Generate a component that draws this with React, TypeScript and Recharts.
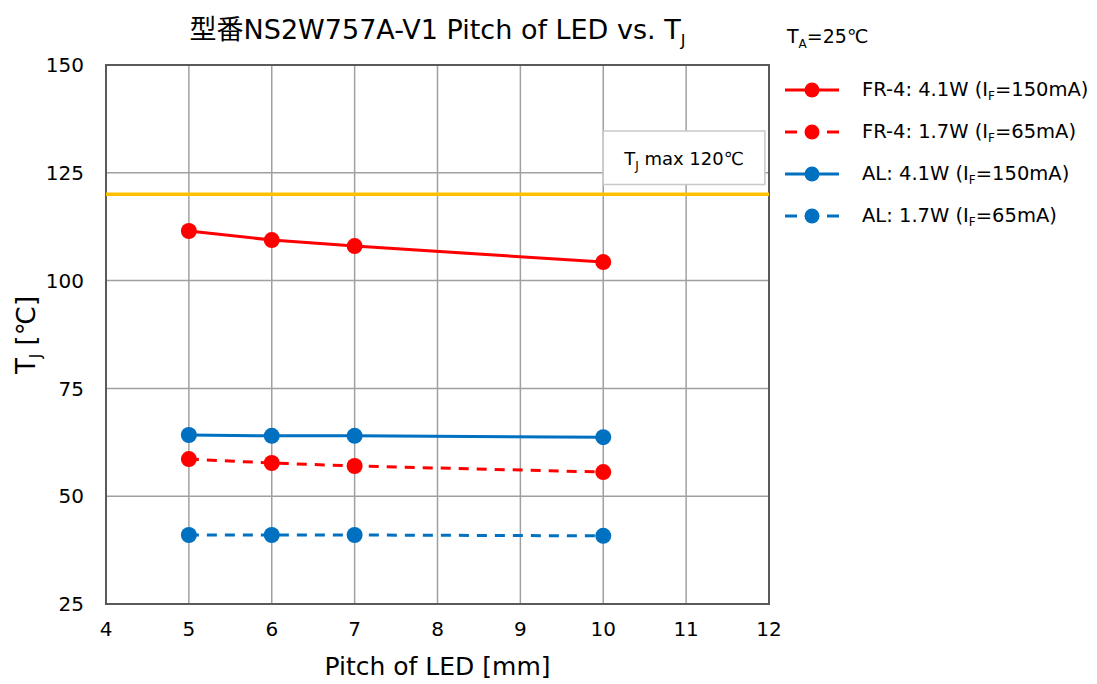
import React from "react";
import {
  LineChart,
  Line,
  XAxis,
  YAxis,
  CartesianGrid,
  ReferenceLine,
  ReferenceArea,
} from "recharts";

// pitch of LED [mm]
const pitches = [5, 6, 7, 10];
// junction temperature [°C]
const fr4High = [111.5, 109.4, 108.0, 104.3];
const fr4Low = [58.6, 57.7, 57.0, 55.6];
const alHigh = [64.2, 64.0, 64.0, 63.7];
const alLow = [41.0, 41.0, 41.0, 40.8];

const xTicks = [4, 5, 6, 7, 8, 9, 10, 11, 12];
const yTicks = [25, 50, 75, 100, 125, 150];
const tjMax = 120;

const RED = "#ff0000";
const BLUE = "#0070c0";
const FONT = "'DejaVu Sans', 'Noto Sans CJK JP', sans-serif";

const series = [
  { key: "fr4High", name: "FR-4: 4.1W (", cur: "=150mA)", color: RED, dashed: false },
  { key: "fr4Low", name: "FR-4: 1.7W (", cur: "=65mA)", color: RED, dashed: true },
  { key: "alHigh", name: "AL: 4.1W (", cur: "=150mA)", color: BLUE, dashed: false },
  { key: "alLow", name: "AL: 1.7W (", cur: "=65mA)", color: BLUE, dashed: true },
];

const data = pitches.map((p, i) => ({
  pitch: p,
  fr4High: fr4High[i],
  fr4Low: fr4Low[i],
  alHigh: alHigh[i],
  alLow: alLow[i],
}));

const MaxLabel = (props: any) => {
  const { viewBox } = props;
  const cx = viewBox.x + viewBox.width / 2;
  const cy = viewBox.y + viewBox.height / 2;
  return (
    <text x={cx} y={cy + 7} textAnchor="middle" fontFamily={FONT} fontSize={18} fill="#000">
      T<tspan fontSize={12} dy={5}>J</tspan>
      <tspan dy={-5}> max 120℃</tspan>
    </text>
  );
};

const LegendSample = ({ color, dashed }: { color: string; dashed: boolean }) => (
  <svg width={56} height={20} style={{ display: "block" }}>
    {dashed ? (
      <>
        <line x1={1} y1={10} x2={13} y2={10} stroke={color} strokeWidth={3} />
        <line x1={43} y1={10} x2={55} y2={10} stroke={color} strokeWidth={3} />
      </>
    ) : (
      <line x1={1} y1={10} x2={55} y2={10} stroke={color} strokeWidth={3} />
    )}
    <circle cx={28} cy={10} r={7.5} fill={color} />
  </svg>
);

export default function App() {
  return (
    <div
      style={{
        position: "absolute",
        left: 0,
        top: 0,
        width: 1097,
        height: 684,
        background: "#fff",
        fontFamily: FONT,
        color: "#000",
      }}
    >
      <LineChart
        width={1097}
        height={684}
        data={data}
        margin={{ top: 65, right: 328, bottom: 0, left: 0 }}
      >
        <CartesianGrid stroke="#a0a0a0" strokeWidth={1.5} />
        <XAxis
          dataKey="pitch"
          type="number"
          domain={[4, 12]}
          ticks={xTicks}
          height={80}
          tickLine={false}
          axisLine={false}
          tickMargin={12}
          tick={{ fontSize: 20, fill: "#000", fontFamily: FONT }}
        />
        <YAxis
          type="number"
          domain={[25, 150]}
          ticks={yTicks}
          width={106}
          tickLine={false}
          axisLine={false}
          tickMargin={16}
          tick={{ fontSize: 20, fill: "#000", fontFamily: FONT }}
        />
        <ReferenceArea
          x1={4}
          x2={12}
          y1={25}
          y2={150}
          fill="none"
          stroke="#5a5a5a"
          strokeWidth={2}
          ifOverflow="visible"
        />
        <ReferenceArea
          x1={10}
          x2={11.95}
          y1={122.3}
          y2={134.7}
          fill="#fff"
          fillOpacity={1}
          stroke="#c8c8c8"
          strokeWidth={1.5}
          label={<MaxLabel />}
        />
        <ReferenceLine y={tjMax} stroke="#ffc000" strokeWidth={3.5} />
        {series.map((s) => (
          <Line
            key={s.key}
            dataKey={s.key}
            stroke={s.color}
            strokeWidth={3}
            strokeDasharray={s.dashed ? "10 8" : undefined}
            dot={{ r: 8, fill: s.color, stroke: s.color, strokeWidth: 0 }}
            isAnimationActive={false}
          />
        ))}
      </LineChart>

      {/* title */}
      <div
        style={{
          position: "absolute",
          left: 106,
          width: 663,
          top: 8,
          textAlign: "center",
          fontSize: 27,
          whiteSpace: "nowrap",
        }}
      >
        型番NS2W757A-V1 Pitch of LED vs. T
        <span style={{ fontSize: 16, position: "relative", top: 7 }}>J</span>
      </div>

      {/* axis titles */}
      <div
        style={{
          position: "absolute",
          left: 106,
          width: 663,
          top: 652,
          textAlign: "center",
          fontSize: 25,
        }}
      >
        Pitch of LED [mm]
      </div>
      <div
        style={{
          position: "absolute",
          left: 26,
          top: 335,
          transform: "translate(-50%, -50%) rotate(-90deg)",
          fontSize: 26,
          whiteSpace: "nowrap",
        }}
      >
        T<span style={{ fontSize: 15, position: "relative", top: 6 }}>J</span> [℃]
      </div>

      {/* legend */}
      <div style={{ position: "absolute", left: 787, top: 25, fontSize: 19 }}>
        T<span style={{ fontSize: 12, position: "relative", top: 5 }}>A</span>=25℃
      </div>
      {series.map((s, i) => (
        <div
          key={s.key}
          style={{
            position: "absolute",
            left: 784,
            top: 78 + i * 42,
            display: "flex",
            alignItems: "center",
            fontSize: 19.5,
            whiteSpace: "nowrap",
          }}
        >
          <LegendSample color={s.color} dashed={s.dashed} />
          <span style={{ marginLeft: 22 }}>
            {s.name}I<span style={{ fontSize: 12, position: "relative", top: 4 }}>F</span>
            {s.cur}
          </span>
        </div>
      ))}
    </div>
  );
}
